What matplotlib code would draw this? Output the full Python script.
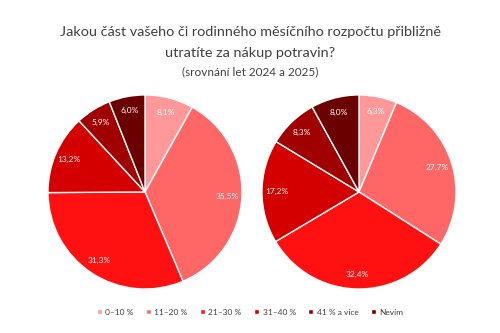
import matplotlib.pyplot as plt

categories = ['0–10 %', '11–20 %', '21–30 %', '31–40 %', '41 % a více', 'Nevím']
values_2024 = [8.1, 35.5, 31.3, 13.2, 5.9, 6.0]
values_2025 = [6.3, 27.7, 32.4, 17.2, 8.3, 8.0]
colors = ['#FF9999', '#FF6666', '#FF1111', '#D40000', '#A00000', '#6B0000']

plt.rcParams['font.family'] = ['Lato', 'DejaVu Sans']

fig = plt.figure(figsize=(5, 3.33), dpi=100)
fig.patch.set_facecolor('white')

fig.text(0.5, 0.905, 'Jakou část vašeho či rodinného měsíčního rozpočtu přibližně',
         ha='center', va='center', fontsize=10.4, color='#404040')
fig.text(0.5, 0.842, 'utratíte za nákup potravin?',
         ha='center', va='center', fontsize=10.4, color='#404040')
fig.text(0.5, 0.785, '(srovnání let 2024 a 2025)',
         ha='center', va='center', fontsize=8.5, color='#404040')

positions = [[0.094, 0.129, 0.392, 0.589], [0.522, 0.129, 0.392, 0.589]]
wedges_all = None
for pos, vals in zip(positions, [values_2024, values_2025]):
    ax = fig.add_axes(pos)
    wedges, texts, autotexts = ax.pie(
        vals, colors=colors, startangle=90, counterclock=False,
        autopct=lambda p: '', pctdistance=0.85,
        wedgeprops=dict(edgecolor='white', linewidth=1.0))
    for w, v, t in zip(wedges, vals, autotexts):
        t.set_text(f'{v:.1f}%'.replace('.', ','))
        t.set_color('white')
        t.set_fontsize(6)
    ax.set_xlim(-1.01, 1.01)
    ax.set_ylim(-1.01, 1.01)
    ax.set_aspect('equal')
    wedges_all = wedges

fig.legend(wedges_all, categories, loc='center', bbox_to_anchor=(0.5, 0.063),
           ncol=6, frameon=False, fontsize=6, handlelength=0.6, handleheight=0.6,
           columnspacing=1.5, handletextpad=0.4, labelcolor='#404040')

plt.savefig('out.png', dpi=100)
